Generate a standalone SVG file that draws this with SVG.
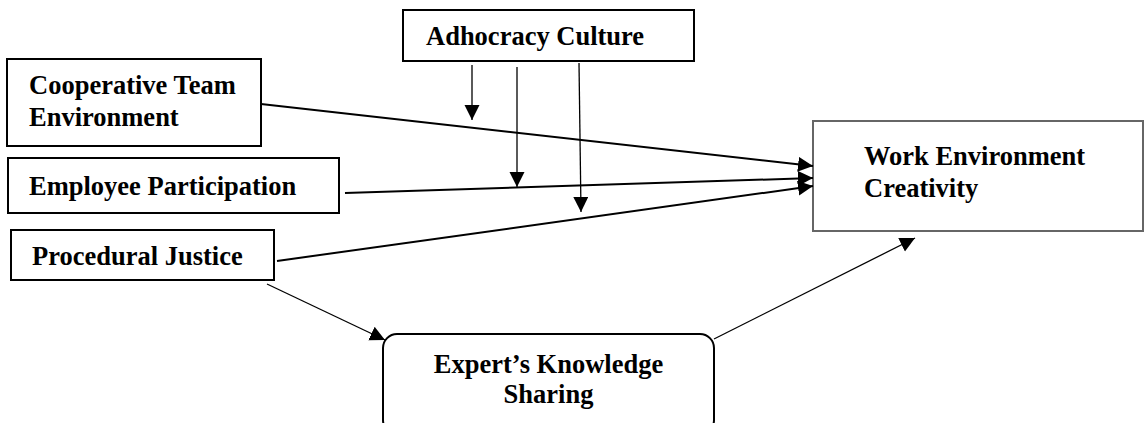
<svg xmlns="http://www.w3.org/2000/svg" width="1145" height="423" viewBox="0 0 1145 423">
<style>
.box{fill:#fff;stroke:#000;stroke-width:2}
.wec{fill:#fff;stroke:#666;stroke-width:2}
.t{font-family:"Liberation Serif","Times New Roman",serif;font-weight:bold;font-size:26.5px;fill:#000}
.c{stroke:#000;fill:none}
.thick{stroke-width:2}
.thin{stroke-width:1.3}
</style>
<defs>
<marker id="ah" markerUnits="userSpaceOnUse" markerWidth="16" markerHeight="16" viewBox="0 0 16 16" refX="15" refY="7.5" orient="auto">
<path d="M0,0 L15,7.5 L0,15 Z" fill="#000"/>
</marker>
</defs>
<rect width="1145" height="423" fill="#fff"/>
<g id="adhocracy">
<rect class="box" x="403" y="10" width="291" height="51"/>
<text class="t" x="426" y="45">Adhocracy Culture</text>
</g>
<g id="cooperative">
<rect class="box" x="7" y="59" width="254" height="87"/>
<text class="t" x="29" y="94">Cooperative Team</text>
<text class="t" x="29" y="126">Environment</text>
</g>
<g id="employee">
<rect class="box" x="8" y="158" width="331" height="55"/>
<text class="t" x="29" y="195">Employee Participation</text>
</g>
<g id="procedural">
<rect class="box" x="11" y="230" width="263" height="50"/>
<text class="t" x="32" y="265">Procedural Justice</text>
</g>
<g id="wec">
<rect class="wec" x="813" y="121" width="330" height="110"/>
<text class="t" x="864" y="165">Work Environment</text>
<text class="t" x="864" y="197">Creativity</text>
</g>
<g id="expert">
<rect class="box" x="383" y="334" width="331" height="100" rx="14" ry="14"/>
<text class="t" x="548.5" y="373" text-anchor="middle">Expert’s Knowledge</text>
<text class="t" x="548.5" y="403" text-anchor="middle">Sharing</text>
</g>
<g id="connectors">
<line class="c thick" x1="261" y1="104" x2="813" y2="166" marker-end="url(#ah)"/>
<line class="c thick" x1="345" y1="193" x2="813" y2="178" marker-end="url(#ah)"/>
<line class="c thick" x1="277" y1="261" x2="813" y2="186" marker-end="url(#ah)"/>
<line class="c thin" x1="267" y1="284" x2="385" y2="340" marker-end="url(#ah)"/>
<line class="c thin" x1="714" y1="339" x2="915" y2="238" marker-end="url(#ah)"/>
<line class="c thin" x1="472" y1="65" x2="472" y2="120" marker-end="url(#ah)"/>
<line class="c thin" x1="517" y1="67" x2="517" y2="187" marker-end="url(#ah)"/>
<line class="c thin" x1="579" y1="63" x2="581" y2="212" marker-end="url(#ah)"/>
</g>
</svg>
